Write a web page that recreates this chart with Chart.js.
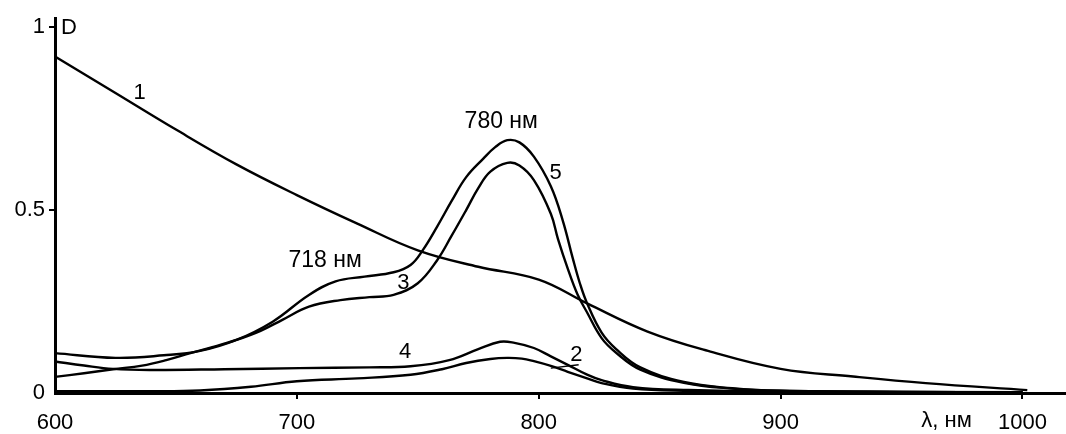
<!DOCTYPE html>
<html>
<head>
<meta charset="utf-8">
<script src="https://cdn.jsdelivr.net/npm/chart.js@4/dist/chart.umd.min.js"></script>
<style>
  html, body { margin: 0; padding: 0; background: #fff; }
</style>
</head>
<body>
<canvas id="chart" width="1066" height="434"></canvas>
<script>
// axis ticks
const xTicks = [600, 700, 800, 900, 1000];
const yTicks = [0, 0.5, 1];

// curve 1
const wl1 = [600, 625, 650, 675, 700, 725, 750, 775, 800, 820, 845, 870, 900, 930, 960, 1002];
const d1 = [0.92, 0.82, 0.72, 0.625, 0.541, 0.463, 0.39, 0.345, 0.31, 0.245, 0.168, 0.115, 0.066, 0.045, 0.027, 0.008];

// curve 2
const wl2 = [600, 640, 660, 681, 700, 725, 747, 760, 770, 780, 787, 793, 798, 805, 812, 820, 826, 839, 860, 900, 1000];
const d2 = [0.005, 0.005, 0.007, 0.017, 0.032, 0.04, 0.05, 0.065, 0.082, 0.093, 0.096, 0.094, 0.087, 0.074, 0.058, 0.04, 0.027, 0.012, 0.006, 0.003, 0.002];

// curve 3
const wl3 = [600, 612, 624, 636, 646, 656, 665, 675, 685, 694, 705, 718, 730, 740, 750, 758, 764, 770, 775, 780, 787, 792, 798, 805, 808, 812, 816, 820, 826, 832, 842, 860, 880, 900, 950, 1000];
const d3 = [0.044, 0.054, 0.065, 0.075, 0.09, 0.109, 0.125, 0.145, 0.17, 0.2, 0.236, 0.254, 0.262, 0.268, 0.3, 0.363, 0.43, 0.5, 0.56, 0.605, 0.629, 0.622, 0.582, 0.49, 0.42, 0.34, 0.27, 0.22, 0.15, 0.11, 0.064, 0.028, 0.012, 0.006, 0.003, 0.002];

// curve 4
const wl4 = [600, 612, 624, 639, 670, 701, 730, 747, 763, 775, 784, 790, 798, 805, 812, 820, 826, 839, 862, 900, 1000];
const d4 = [0.086, 0.075, 0.066, 0.063, 0.065, 0.068, 0.07, 0.073, 0.09, 0.12, 0.14, 0.137, 0.123, 0.1, 0.077, 0.05, 0.035, 0.016, 0.008, 0.004, 0.002];

// curve 5
const wl5 = [600, 625, 645, 660, 675, 690, 705, 716, 728, 740, 747, 752, 758, 764, 770, 777, 782, 787, 792, 798, 805, 810, 814, 817, 820, 826, 832, 842, 860, 880, 900, 950, 1000];
const d5 = [0.109, 0.096, 0.103, 0.115, 0.145, 0.195, 0.268, 0.305, 0.318, 0.33, 0.35, 0.39, 0.455, 0.525, 0.59, 0.64, 0.672, 0.691, 0.685, 0.646, 0.565, 0.47, 0.37, 0.3, 0.245, 0.165, 0.12, 0.07, 0.03, 0.013, 0.006, 0.003, 0.002];

const curveLabels = [
  { text: '1', x: 635, y: 0.82 },
  { text: '780 нм', x: 784.5, y: 0.743 },
  { text: '5', x: 807, y: 0.601 },
  { text: '718 нм', x: 711.7, y: 0.363 },
  { text: '3', x: 744, y: 0.30 },
  { text: '4', x: 744.8, y: 0.112 },
  { text: '2', x: 815.6, y: 0.104 },
  { text: 'D', x: 605.8, y: 0.997 },
];

const FONT = '"Liberation Sans", Arial, sans-serif';

const toPoints = (xs, ys) => xs.map((x, i) => ({ x: x, y: ys[i] }));

const curve = (xs, ys) => ({
  data: toPoints(xs, ys),
  borderColor: '#000',
  borderWidth: 2.4,
  pointRadius: 0,
  fill: false,
  clip: false,
  tension: 0.4,
});

const labelPlugin = {
  id: 'curveLabels',
  afterDatasetsDraw(chart) {
    const { ctx, scales, chartArea } = chart;
    const x = scales.x, y = scales.y;
    ctx.save();
    ctx.fillStyle = '#000';
    ctx.textAlign = 'center';
    ctx.textBaseline = 'middle';
    curveLabels.forEach(l => {
      ctx.font = (l.text.length > 2 ? '23px ' : '22px ') + FONT;
      ctx.fillText(l.text, x.getPixelForValue(l.x), y.getPixelForValue(l.y));
    });
    // x axis title
    ctx.font = '22px ' + FONT;
    ctx.fillText('λ, нм', x.getPixelForValue(968.6), chartArea.bottom + 28);
    // leader for label 2
    ctx.strokeStyle = '#000';
    ctx.lineWidth = 1.5;
    ctx.beginPath();
    ctx.moveTo(x.getPixelForValue(805), y.getPixelForValue(0.068));
    ctx.lineTo(x.getPixelForValue(816.5), y.getPixelForValue(0.077));
    ctx.stroke();
    ctx.restore();
  }
};

new Chart(document.getElementById('chart'), {
  type: 'line',
  data: {
    datasets: [
      curve(wl1, d1),
      curve(wl2, d2),
      curve(wl3, d3),
      curve(wl4, d4),
      curve(wl5, d5),
    ]
  },
  options: {
    responsive: false,
    animation: false,
    devicePixelRatio: 1,
    layout: { padding: { top: 18, right: 0, left: 0, bottom: 0 } },
    plugins: {
      legend: { display: false },
      tooltip: { enabled: false },
    },
    scales: {
      x: {
        type: 'linear',
        min: 600,
        max: 1018,
        afterBuildTicks: s => { s.ticks = xTicks.map(v => ({ value: v })); },
        afterFit: s => { s.height = 41; },
        border: { display: true, color: '#000', width: 3 },
        grid: {
          drawOnChartArea: false,
          drawTicks: true,
          tickLength: 6,
          lineWidth: 2,
          color: c => (c.tick && c.tick.value === 600) ? 'rgba(0,0,0,0)' : '#000',
        },
        ticks: {
          color: '#000',
          padding: 11,
          maxRotation: 0,
          autoSkip: false,
          font: { family: FONT, size: 22 },
          callback: v => String(v),
        },
      },
      y: {
        type: 'linear',
        min: 0,
        max: 1.025,
        afterBuildTicks: s => { s.ticks = yTicks.map(v => ({ value: v })); },
        afterFit: s => { s.width = 55; },
        border: { display: true, color: '#000', width: 3 },
        grid: {
          drawOnChartArea: false,
          drawTicks: true,
          tickLength: 6,
          lineWidth: 2,
          color: c => (c.tick && c.tick.value === 0) ? 'rgba(0,0,0,0)' : '#000',
        },
        ticks: {
          color: '#000',
          padding: 4,
          font: { family: FONT, size: 22 },
          callback: v => String(v),
        },
      },
    },
  },
  plugins: [labelPlugin],
});
</script>
</body>
</html>
